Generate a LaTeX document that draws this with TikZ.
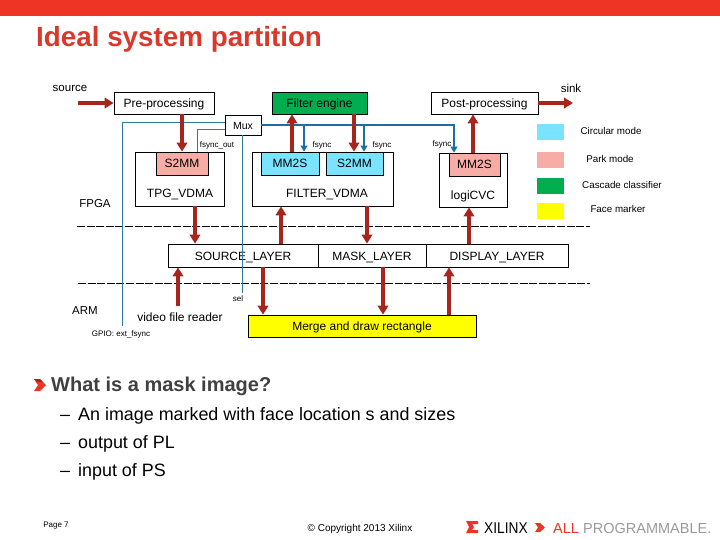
\documentclass[tikz,border=0pt]{standalone}
\usepackage{graphicx}
\usepackage{fontspec}
\setmainfont{Liberation Sans}
\usetikzlibrary{arrows.meta}

\definecolor{xred}{HTML}{EE3424}
\definecolor{titlered}{HTML}{D8392C}
\definecolor{flowred}{HTML}{A8251E}
\definecolor{syncteal}{HTML}{2A7C9E}
\definecolor{syncblue}{HTML}{1B6FA6}
\definecolor{modecyan}{HTML}{7AE3FF}
\definecolor{modepink}{HTML}{F8ACA6}
\definecolor{modegreen}{HTML}{00AE50}
\definecolor{modeyellow}{HTML}{FFFF00}

\newcommand{\fsz}[1]{\fontsize{#1}{#1}\selectfont}

\tikzset{
    blockbox/.style={draw=black, line width=0.8pt, inner sep=0pt, text height=9pt, text depth=0pt, font=\fsz{12}},
    lbl/.style={inner sep=0pt, font=\fsz{11.5}},
    vdmalbl/.style={anchor=base, inner sep=0pt, font=\fsz{12}},
    tinylbl/.style={inner sep=0pt, font=\fsz{8}},
    modelbl/.style={inner sep=0pt, font=\fsz{9.8}},
    flow/.style={draw=flowred, line width=3.6pt, -{Triangle[length=9pt,width=10.5pt]}},
    syncline/.style={draw=syncteal, line width=0.9pt},
    syncarrow/.style={draw=syncblue, line width=1.1pt, -{Triangle[length=6pt,width=7pt]}},
    partition/.style={draw=black, line width=0.8pt, dash pattern=on 8pt off 1.6pt},
    bodytext/.style={anchor=base west, inner sep=0pt, font=\fsz{17.9}, text=black},
}

\begin{document}
\begin{tikzpicture}[x=1pt, y=-1pt]
    \useasboundingbox (0,0) rectangle (720,540);

    \coordinate (cSrc) at (78,103);
    \coordinate (cSink) at (573,103);
    \coordinate (cPre) at (182,0);
    \coordinate (cTpg) at (195,0);
    \coordinate (cFiltUp) at (281,0);
    \coordinate (cFiltDown) at (367,0);
    \coordinate (cLogi) at (469,0);
    \coordinate (cVideo) at (178,0);
    \coordinate (cVideoEnd) at (178,306);
    \coordinate (cMergeIn) at (263,0);
    \coordinate (cMergeMask) at (383,0);
    \coordinate (cMergeOut) at (449,0);
    \coordinate (cMm2s) at (292,0);
    \coordinate (cEngine) at (354,0);
    \coordinate (cPost) at (473,0);
    \coordinate (cGpio) at (122,326);
    \coordinate (cSel) at (242,293);
    \coordinate (cTpgSync) at (197,0);
    \coordinate (cSyncA) at (304,0);
    \coordinate (cSyncB) at (364,0);
    \coordinate (cSyncC) at (454,0);
    \coordinate (rowA) at (0,122);
    \coordinate (rowB) at (0,129);
    \coordinate (dashAl) at (77,226);
    \coordinate (dashAr) at (590,226);
    \coordinate (dashBl) at (78,283);
    \coordinate (dashBr) at (590,283);

    \fill[xred] (0,0) rectangle (720,16);
    \node[anchor=base west, inner sep=0pt, font=\fsz{27.8}\bfseries, text=titlered] (title) at (36,47) {Ideal system partition};

    % top row
    \node[blockbox, minimum width=100, minimum height=22] (preproc) at (164,103) {Pre-processing};
    \node[blockbox, fill=modegreen, minimum width=95, minimum height=22] (engine) at (319.5,103) {Filter engine};
    \node[blockbox, minimum width=107, minimum height=22] (postproc) at (484.5,103) {Post-processing};

    % vdma blocks
    \node[draw=black, line width=0.8pt, minimum width=89, minimum height=54] (tpg) at (179.5,179) {};
    \node[blockbox, fill=modepink, minimum width=52, minimum height=23] (tpgs2mm) at (182,163.5) {S2MM};
    \node[vdmalbl] (tpglbl) at (180,198) {TPG\_VDMA};
    \node[draw=black, line width=0.8pt, minimum width=141, minimum height=54] (filter) at (322.5,179) {};
    \node[blockbox, fill=modecyan, minimum width=58, minimum height=23] (filtmm2s) at (290,163.5) {MM2S};
    \node[blockbox, fill=modecyan, minimum width=57, minimum height=23] (filts2mm) at (354.5,163.5) {S2MM};
    \node[vdmalbl] (filtlbl) at (327,198) {FILTER\_VDMA};
    \node[draw=black, line width=0.8pt, minimum width=68, minimum height=54] (logi) at (473,180) {};
    \node[blockbox, fill=modepink, minimum width=51, minimum height=23] (logimm2s) at (474.5,164.5) {MM2S};
    \node[vdmalbl] (logilbl) at (473,200) {logiCVC};

    % layers
    \node[blockbox, minimum width=150, minimum height=23] (srclayer) at (243,255.5) {SOURCE\_LAYER};
    \node[blockbox, minimum width=108, minimum height=23] (masklayer) at (372,255.5) {MASK\_LAYER};
    \node[blockbox, minimum width=142, minimum height=23] (displayer) at (497,255.5) {DISPLAY\_LAYER};
    \node[blockbox, fill=modeyellow, minimum width=228, minimum height=22] (merge) at (362,326) {Merge and draw rectangle};

    \draw[partition] (dashAl) -- (dashAr);
    \draw[partition] (dashBl) -- (dashBr);

    % sync wiring
    \node[blockbox, fill=white, font=\fsz{10.5}, minimum width=36, minimum height=20] (mux) at (243,125) {Mux};
    \draw[syncline] (mux.west |- rowA) -| (cGpio);
    \draw[syncline] (mux.west |- rowB) -| (cTpgSync |- tpg.north);
    \draw[syncline] (mux.south -| cSel) -- (cSel);
    \draw[syncarrow] (mux.east) -| (cSyncC |- logimm2s.north);
    \draw[syncarrow] (cSyncA |- mux.east) -- (cSyncA |- filtmm2s.north);
    \draw[syncarrow] (cSyncB |- mux.east) -- (cSyncB |- filts2mm.north);

    % data flow
    \draw[flow] (cSrc) -- (preproc.west);
    \draw[flow] (postproc.east) -- (cSink);
    \draw[flow] (cPre |- preproc.south) -- (cPre |- tpgs2mm.north);
    \draw[flow] (cMm2s |- filtmm2s.north) -- (cMm2s |- engine.south);
    \draw[flow] (cEngine |- engine.south) -- (cEngine |- filts2mm.north);
    \draw[flow] (cPost |- logimm2s.north) -- (cPost |- postproc.south);
    \draw[flow] (cTpg |- tpg.south) -- (cTpg |- srclayer.north);
    \draw[flow] (cFiltUp |- srclayer.north) -- (cFiltUp |- filter.south);
    \draw[flow] (cFiltDown |- filter.south) -- (cFiltDown |- masklayer.north);
    \draw[flow] (cLogi |- displayer.north) -- (cLogi |- logi.south);
    \draw[flow] (cVideoEnd) -- (cVideo |- srclayer.south);
    \draw[flow] (cMergeIn |- srclayer.south) -- (cMergeIn |- merge.north);
    \draw[flow] (cMergeMask |- masklayer.south) -- (cMergeMask |- merge.north);
    \draw[flow] (cMergeOut |- merge.north) -- (cMergeOut |- displayer.south);

    % labels
    \node[lbl] (srclbl) at (70,88) {source};
    \node[lbl] (sinklbl) at (571,88) {sink};
    \node[lbl] (fpgalbl) at (95,204) {FPGA};
    \node[lbl] (armlbl) at (85,311) {ARM};
    \node[lbl, font=\fsz{12}] (videolbl) at (180,317) {video file reader};
    \node[tinylbl] (fsyncout) at (217,145) {fsync\_out};
    \node[tinylbl] (fsynca) at (322,145) {fsync};
    \node[tinylbl] (fsyncb) at (382,145) {fsync};
    \node[tinylbl] (fsyncc) at (442,144) {fsync};
    \node[tinylbl] (sellbl) at (238,299) {sel};
    \node[tinylbl] (gpiolbl) at (121,334) {GPIO: ext\_fsync};

    % legend
    \fill[modecyan] (537,124) rectangle (564,140);
    \fill[modepink] (537,152) rectangle (564,168);
    \fill[modegreen] (537,178) rectangle (564,194);
    \fill[modeyellow] (537,203) rectangle (564,219);
    \node[modelbl] (circlbl) at (611,131) {Circular mode};
    \node[modelbl] (parklbl) at (610,159) {Park mode};
    \node[modelbl] (casclbl) at (622,185) {Cascade classifier};
    \node[modelbl] (facelbl) at (618,209) {Face marker};

    % bullets
    \fill[xred] (34,379) -- (40,379) -- (46,385) -- (40,391) -- (34,391) -- (38,385) -- cycle;
    \fill[flowred] (34,379) -- (40,379) -- (43,382) -- (37,382) -- cycle;
    \node[anchor=base west, inner sep=0pt, font=\fsz{20}\bfseries, text=black!75] (head) at (51,391) {What is a mask image?};
    \node[bodytext] (dasha) at (60,420) {–};
    \node[bodytext] (itema) at (78,420) {An image marked with face location s and sizes};
    \node[bodytext] (dashb) at (60,448) {–};
    \node[bodytext] (itemb) at (78,448) {output of PL};
    \node[bodytext] (dashc) at (60,476) {–};
    \node[bodytext] (itemc) at (78,476) {input of PS};

    % footer
    \node[tinylbl] (pagelbl) at (56,526) {Page 7};
    \node[inner sep=0pt, font=\fsz{10}] (copylbl) at (360,529) {© Copyright 2013 Xilinx};
    \fill[xred] (466,521) -- (478,521) -- (478,524) -- (472,524) -- (474,527) -- (472,530) -- (478,530) -- (478,533) -- (466,533) -- (469,527) -- cycle;
    \node[anchor=base west, inner sep=0pt, font=\fsz{15.6}] (xilinx) at (484,533) {\scalebox{0.88}[1]{XILINX}};
    \fill[xred] (535,523) -- (540,523) -- (545,527.5) -- (540,532) -- (535,532) -- (538,527.5) -- cycle;
    \node[anchor=base west, inner sep=0pt, font=\fsz{14.5}, text=xred] (alllbl) at (553,533) {ALL};
    \node[anchor=base west, inner sep=0pt, font=\fsz{14.5}, text=black!40] (proglbl) at (583,533) {PROGRAMMABLE.};
\end{tikzpicture}
\end{document}
